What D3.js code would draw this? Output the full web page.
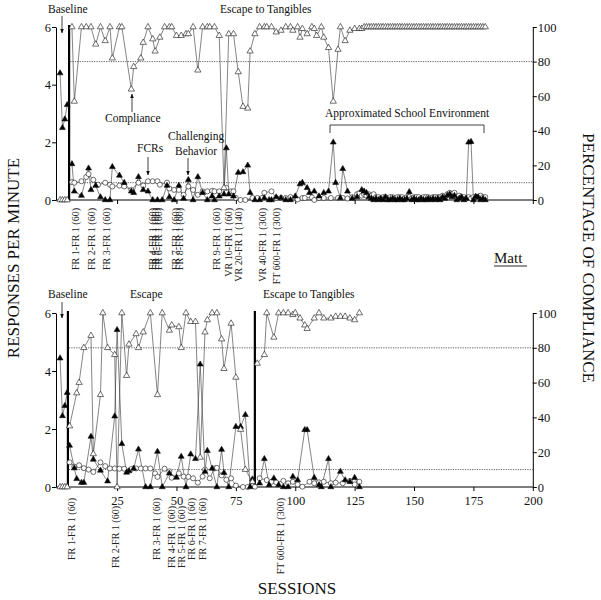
<!DOCTYPE html>
<html>
<head>
<meta charset="utf-8">
<script src="https://cdn.jsdelivr.net/npm/d3@7"></script>
<style>
  body { margin: 0; background: #fff; }
  svg { display: block; font-family: "Liberation Serif", "Times New Roman", serif; }
</style>
</head>
<body>
<svg id="chart" width="601" height="600"></svg>
<script>
// ---- top panel (Matt, first analysis) ----
const topCompSessions = [1,2,3,4,6,7,10,12,14,16,18,20,22,23,26,27,31,32,35,36,38,40,41,43,45,47,48,50,52,54,55,57,59,61,63,64,66,68,70,72,74,76,78,80,81,83,85,87,88,90,92,94,96,98,99,101,102,103,105,107,108,109,111,112,114,116,118,119,121,123,125,127,128,
  129,130,131,132,133,134,135,136,137,138,139,140,141,142,143,144,145,146,147,148,149,150,151,152,153,154,155,156,157,158,159,160,161,162,163,164,165,166,167,168,169,170,171,172,173,174,175,176,177,178,179,180];
const topCompValues = [0,0,0,0,100,57,100,100,100,90,100,92,100,82,100,100,64,77,82,91,100,93,86,94,100,100,100,95,95,96,96,100,75,100,100,100,100,95,7,96,96,74,54,53,86,96,100,100,100,100,97,98,100,100,98,100,94,99,96,100,99,95,100,94,88,57,87,100,92,98,99,99,99,
  100,100,100,100,100,100,100,100,100,100,100,100,100,100,100,100,100,100,100,100,100,100,100,100,100,100,100,100,100,100,100,100,100,100,100,100,100,100,100,100,100,100,100,100,100,100,100,100,100,100,100,100];

const topCBSessions = [1,2,3,4,6,7,10,13,14,16,18,20,22,23,26,28,31,32,34,36,38,40,42,44,46,47,49,51,53,55,57,59,61,63,65,66,68,70,71,72,74,76,78,80,81,83,85,87,89,90,92,94,96,98,100,102,103,105,106,108,110,112,114,116,117,119,120,122,124,126,128,
  129,130,131,132,133,134,135,136,137,138,139,140,141,142,143,144,145,146,147,148,149,150,151,152,153,154,155,156,157,158,159,160,161,162,163,164,165,166,167,168,169,170,171,172,173,174,175,176,177,178,179,180];
const topCBValues = [4.4,2.5,2.8,3.3,1.25,0.3,0.15,1.1,0.35,0.5,0.1,0,0,1.15,0.85,0.6,0.3,0.25,0.8,0.35,0.3,0,0,0,0.5,0.1,0,0.5,0.05,0.7,0,0.8,0.25,0,0.13,0,0.13,0.2,1.8,0.2,0.13,0.95,0.97,1.2,0.25,0,0,0.07,0,0,0.1,0.07,0,0,0.13,0.55,0.6,0.42,0.25,0.3,0.13,0.25,0.3,2.0,0.6,0.07,1.08,0.3,0.05,0.1,0.35,
  0.3,0.25,0.1,0.05,0,0.05,0,0.05,0,0.1,0,0,0.05,0,0,0.05,0,0,0.05,0.28,0,0.05,0,0,0.05,0,0,0.05,0,0.05,0,0.05,0,0.1,0.05,0.15,0.2,0.1,0.15,0,0.05,0.1,0,0.05,2.0,2.02,0,0.12,0.1,0,0.05,0];

const topFCRSessions = [6,7,10,12,13,15,17,20,22,23,26,28,31,34,36,38,40,42,43,46,47,49,51,53,55,57,59,61,63,65,66,68,71,73,74,75,77,79,82,84,86,87,90,92,94,96,98,101,103,104,107,108,110,112,115,118,120,122,124,126,127,128,
  129,130,131,132,133,134,135,136,137,138,139,140,141,142,143,144,145,146,147,148,149,150,151,152,153,154,155,156,157,158,159,160,161,162,163,164,165,166,167,168,169,170,171,172,173,174,175,176,177,178,179,180];
const topFCRValues = [0.62,0.6,0.65,0.8,0.9,0.7,0.53,0.6,0.53,0.47,0.5,0.47,0.35,0.6,0.5,0.65,0.65,0.65,0.53,0.6,0.4,0.35,0.35,0.18,0.47,0.35,0.18,0.3,0.3,0.32,0.3,0.3,0.42,0.3,0.3,0.07,0,0,0.07,0.07,0.07,0.25,0.3,0.07,0.07,0.07,0.1,0.02,0.07,0.07,0.09,0,0.07,0.07,0.07,0.07,0.07,0.05,0.1,0.2,0.24,0.15,
  0.2,0.15,0.2,0.15,0.2,0.1,0.1,0.05,0.1,0.1,0.05,0.1,0.1,0.05,0.1,0.1,0.1,0.05,0.1,0.1,0.05,0.1,0.1,0.1,0.05,0.1,0.1,0.1,0.05,0.1,0.1,0.1,0.1,0.15,0.1,0.2,0.25,0.2,0.25,0.1,0.15,0.1,0.1,0.05,0.1,0.05,0.1,0.1,0.1,0.15,0.1,0.1];

const topPhaseBreaks = [4.8];
const topCondLabels = ["FR 1-FR 1 (60)","FR 2-FR 1 (60)","FR 3-FR 1 (60)","FR 4-FR 1 (60)","FR 5-FR 1 (60)","FR 6-FR 1 (60)","FR 7-FR 1 (60)","FR 8-FR 1 (60)","FR 9-FR 1 (60)","VR 10-FR 1 (60)","VR 20-FR 1 (140)","VR 40-FR 1 (300)","FT 600-FR 1 (300)"];
const topCondSessions = [7.3,14.3,20.6,39.7,41.2,42.6,49.6,51.1,66.9,71.7,76.3,86.3,92.2];

// ---- bottom panel ----
const botCompSessions = [1,2,3,4,5,8,9,11,14,15,18,19,21,24,25,27,29,30,33,34,36,39,42,44,47,48,51,52,54,56,58,60,62,63,65,67,69,70,73,75,77,79,82,84,87,88,91,93,95,97,99,100,102,104,105,108,110,112,115,117,119,121,123,125,127];
const botCompValues = [0,0,0,0,35,54,60,80,87,19,53,100,80,76,0,100,64,82,88,80,89,100,53,100,90,93,92,80,100,95,95,17,89,96,100,100,85,68,94,63,33,10,3,71,76,100,86,100,100,100,99,100,97,93,91,97,100,97,97,98,98,98,97,96,100];

const botCBSessions = [1,2,3,4,5,7,8,10,11,14,15,18,21,24,25,27,29,30,32,34,37,39,42,44,47,50,52,54,56,58,60,62,63,65,67,69,70,72,75,77,79,81,82,85,87,89,91,93,95,97,99,101,104,105,108,110,111,114,115,119,121,123,125,127];
const botCBValues = [4.44,2.45,2.8,3.25,1.43,0.65,0.28,0.15,0.15,1.74,0.95,0.57,0.2,2.44,5.42,1.49,0.5,0.55,0.64,1.3,0,0,1.22,0,0.47,0.33,1.05,0,1.13,0.97,4.23,0.53,1.25,0.64,0,1.29,0.49,0,2.08,2.08,2.49,0,0.27,0.13,0.97,0.07,0.3,0.07,0,0,0.36,0.24,1.97,1.97,0.32,0.07,0,0.97,0,0.53,0.24,0.18,0.32,0];

const botFCRSessions = [5,7,9,11,13,15,18,20,22,24,26,28,31,33,35,37,39,41,42,45,47,48,51,53,55,57,59,61,62,64,66,67,69,71,73,75,78,80,83,85,88,90,92,95,97,99,101,103,106,108,110,112,115,117,120,123,125,127];
const botFCRValues = [0.85,0.7,0.75,0.65,0.6,0.52,0.85,0.72,0.64,0.64,0.63,0.63,0.62,0.64,0.64,0.64,0.64,0.47,0.35,0.63,0.54,0.32,0.47,0.36,0.35,0.3,0.15,0.36,0.6,0.3,0.64,0.66,0.4,0.25,0.3,0.05,0,0,0.01,0.3,0.24,0.18,0.16,0.21,0.13,0.18,0.09,0.01,0.18,0.13,0.16,0.18,0.13,0.15,0.13,0.21,0.09,0.18];

const botPhaseBreaks = [4.3, 83];
const botCondLabels = ["FR 1-FR 1 (60)","FR 2-FR 1 (60)","FR 3-FR 1 (60)","FR 4-FR 1 (60)","FR 5-FR 1 (60)","FR 6-FR 1 (60)","FR 7-FR 1 (60)","FT 600-FR 1 (300)"];
const botCondSessions = [5.9,24.5,41.8,48,52.2,56.4,61,93.6];

const sessionTicks = [25,50,75,100,125,150,175,200];
const rateTicks = [0,2,4,6];
const pctTicks = [0,20,40,60,80,100];
const criterionPct = [80, 10];

// ---- drawing ----
const svg = d3.select('#chart');
const x = d3.scaleLinear().domain([0, 200]).range([57.7, 532.8]);
const leftX = 56;
const rightX = x(200);

svg.append('defs').append('marker')
    .attr('id', 'arrow')
    .attr('viewBox', '0 0 10 10')
    .attr('refX', 9).attr('refY', 5)
    .attr('markerWidth', 6).attr('markerHeight', 6)
    .attr('orient', 'auto-start-reverse')
    .append('path')
    .attr('d', 'M0,1 L10,5 L0,9 z')
    .attr('fill', '#111');

function zipPts(ss, vs) {
    return ss.map((s, i) => ({ s: s, v: vs[i] }));
}

function drawPanel(p) {
    const yL = d3.scaleLinear().domain([0, 6]).range([p.y0, p.y1]);
    const yR = d3.scaleLinear().domain([0, 100]).range([p.y0, p.y1]);
    const g = svg.append('g');

    // criterion lines
    criterionPct.forEach(c => {
        g.append('line')
            .attr('x1', x(p.breaks[0]) + 1).attr('x2', rightX)
            .attr('y1', yR(c)).attr('y2', yR(c))
            .attr('stroke', '#333').attr('stroke-width', 0.8)
            .attr('stroke-dasharray', '1.2,1.2');
    });

    // axes
    const xa = g.append('g')
        .attr('transform', `translate(0,${p.y0})`)
        .call(d3.axisBottom(x).tickValues(sessionTicks).tickSize(4).tickSizeOuter(0)
            .tickFormat(p.tickLabels ? d3.format('d') : ''));
    xa.select('.domain').remove();
    g.append('line').attr('x1', leftX).attr('x2', rightX)
        .attr('y1', p.y0).attr('y2', p.y0)
        .attr('stroke', '#000').attr('stroke-width', 1);

    const la = g.append('g')
        .attr('transform', `translate(${leftX},0)`)
        .call(d3.axisLeft(yL).tickValues(rateTicks).tickSize(4).tickSizeOuter(0)
            .tickFormat(d3.format('d')));
    const ra = g.append('g')
        .attr('transform', `translate(${rightX},0)`)
        .call(d3.axisRight(yR).tickValues(pctTicks).tickSize(4).tickSizeOuter(0)
            .tickFormat(d3.format('d')));

    [xa, la, ra].forEach(a => {
        a.attr('font-family', null).attr('font-size', 12.5);
        a.selectAll('line, path').attr('stroke', '#000').attr('stroke-width', 1);
        a.selectAll('text').attr('fill', '#111');
    });
    xa.selectAll('text').attr('dy', '0.9em');
    la.selectAll('text').attr('x', -5);
    ra.selectAll('text').attr('x', 5);

    // phase change lines
    p.breaks.forEach(b => {
        g.append('line')
            .attr('x1', x(b)).attr('x2', x(b))
            .attr('y1', p.y1 - 2).attr('y2', p.y0)
            .attr('stroke', '#000').attr('stroke-width', 2.2);
    });

    // split points into phases so lines do not cross a phase change
    const bounds = [-Infinity, ...p.breaks, Infinity];
    function segments(pts) {
        const out = [];
        for (let i = 0; i < bounds.length - 1; i++) {
            const seg = pts.filter(d => d.s > bounds[i] && d.s < bounds[i + 1]);
            if (seg.length) out.push(seg);
        }
        return out;
    }

    const series = [
        { pts: zipPts(p.fcr[0], p.fcr[1]), y: yL, sym: d3.symbolCircle, size: 20, fill: '#fff' },
        { pts: zipPts(p.cb[0], p.cb[1]), y: yL, sym: d3.symbolTriangle, size: 15, fill: '#000' },
        { pts: zipPts(p.comp[0], p.comp[1]), y: yR, sym: d3.symbolTriangle, size: 17, fill: '#fff' }
    ];

    series.forEach(sr => {
        const line = d3.line().x(d => x(d.s)).y(d => sr.y(d.v));
        g.append('g').selectAll('path')
            .data(segments(sr.pts))
            .join('path')
            .attr('d', line)
            .attr('fill', 'none')
            .attr('stroke', '#333')
            .attr('stroke-width', 0.6);
    });
    series.forEach(sr => {
        g.append('g').selectAll('path')
            .data(sr.pts)
            .join('path')
            .attr('d', d3.symbol().type(sr.sym).size(sr.size))
            .attr('transform', d => `translate(${x(d.s)},${sr.y(d.v)})`)
            .attr('fill', sr.fill)
            .attr('stroke', '#111')
            .attr('stroke-width', 0.6);
    });

    // condition labels under the axis
    g.append('g').selectAll('text')
        .data(p.labels.map((t, i) => ({ t: t, s: p.labelSessions[i] })))
        .join('text')
        .attr('transform', d => {
            const near = p.tickLabels && sessionTicks.some(t => Math.abs(x(t) - x(d.s)) < 6);
            return `translate(${x(d.s)},${p.labelTop + (near ? 8 : 0)}) rotate(-90)`;
        })
        .attr('text-anchor', 'end')
        .attr('dominant-baseline', 'central')
        .attr('font-size', 10)
        .attr('fill', '#222')
        .text(d => d.t);
}

drawPanel({
    y0: 200, y1: 27, breaks: topPhaseBreaks, tickLabels: false,
    comp: [topCompSessions, topCompValues], cb: [topCBSessions, topCBValues], fcr: [topFCRSessions, topFCRValues],
    labels: topCondLabels, labelSessions: topCondSessions, labelTop: 208
});
drawPanel({
    y0: 487, y1: 313, breaks: botPhaseBreaks, tickLabels: true,
    comp: [botCompSessions, botCompValues], cb: [botCBSessions, botCBValues], fcr: [botFCRSessions, botFCRValues],
    labels: botCondLabels, labelSessions: botCondSessions, labelTop: 498
});

// annotations
function note(t, x0, y0, size) {
    svg.append('text').attr('x', x0).attr('y', y0)
        .attr('font-size', size || 11.5).attr('fill', '#111').text(t);
}
function arrow(x0, y0, y1) {
    svg.append('line').attr('x1', x0).attr('x2', x0).attr('y1', y0).attr('y2', y1)
        .attr('stroke', '#111').attr('stroke-width', 0.8)
        .attr('marker-end', 'url(#arrow)');
}

note('Baseline', 48, 13);
arrow(62, 16, 33);
note('Escape to Tangibles', 220, 13);
note('Compliance', 105, 122);
arrow(132, 112, 94);
note('FCRs', 137, 152);
arrow(148, 157, 175);
note('Challenging', 168, 140);
note('Behavior', 175, 155);
arrow(188, 158, 175);
note('Approximated School Environment', 325, 117);
svg.append('path').attr('d', 'M330,133 V125 H484 V133')
    .attr('fill', 'none').attr('stroke', '#111').attr('stroke-width', 0.8);

svg.append('text').attr('x', 494).attr('y', 263)
    .attr('font-size', 15).attr('fill', '#111').text('Matt');
svg.append('line').attr('x1', 494).attr('x2', 527).attr('y1', 266).attr('y2', 266)
    .attr('stroke', '#111').attr('stroke-width', 0.9);

note('Baseline', 48, 298);
arrow(62, 302, 318);
note('Escape', 130, 298);
note('Escape to Tangibles', 263, 298);

// axis titles
svg.append('text')
    .attr('transform', 'translate(19,258) rotate(-90)')
    .attr('text-anchor', 'middle').attr('font-size', 17).attr('fill', '#111')
    .text('RESPONSES PER MINUTE');
svg.append('text')
    .attr('transform', 'translate(583,258) rotate(90)')
    .attr('text-anchor', 'middle').attr('font-size', 17).attr('fill', '#111')
    .text('PERCENTAGE OF COMPLIANCE');
svg.append('text')
    .attr('x', 297).attr('y', 594)
    .attr('text-anchor', 'middle').attr('font-size', 17).attr('fill', '#111')
    .text('SESSIONS');
</script>
</body>
</html>
